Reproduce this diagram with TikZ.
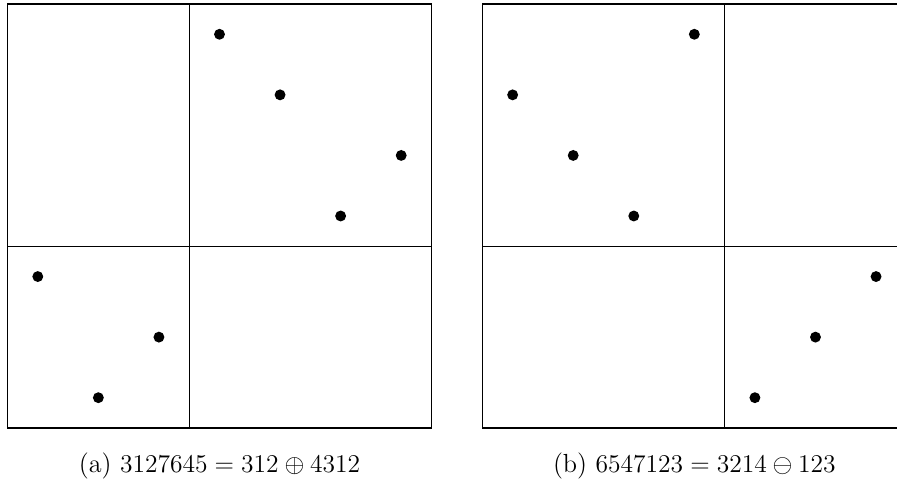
\documentclass[tikz,border=0pt]{standalone}
\usepackage{amssymb}
\begin{document}
\begin{tikzpicture}[line width = 0.5pt, every node/.style = {font = \fontsize{12.3}{15}\selectfont}]
\useasboundingbox (-0.124,-0.925) rectangle (14.686,7.066);
\draw (0,0) rectangle (7,7);
\draw (3,0) -- (3,7);
\draw (0,3) -- (7,3);
\foreach \i/\v in {1/3, 2/1, 3/2, 4/7, 5/6, 6/4, 7/5}
  \fill (\i-0.5,\v-0.5) circle [radius = 0.09];
\node (capa) at (3.5,-0.63) {(a) $3127645 = 312 \oplus 4312$};
\begin{scope}[xshift = 7.84cm]
\draw (0,0) rectangle (7,7);
\draw (4,0) -- (4,7);
\draw (0,3) -- (7,3);
\foreach \i/\v in {1/6, 2/5, 3/4, 4/7, 5/1, 6/2, 7/3}
  \fill (\i-0.5,\v-0.5) circle [radius = 0.09];
\node (capb) at (3.5,-0.63) {(b) $6547123 = 3214 \ominus 123$};
\end{scope}
\end{tikzpicture}
\end{document}
